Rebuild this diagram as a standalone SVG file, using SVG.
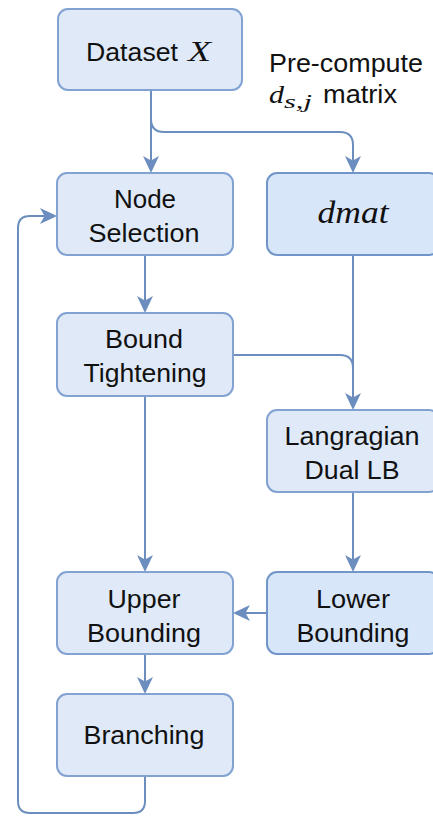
<svg xmlns="http://www.w3.org/2000/svg" width="433" height="816" viewBox="0 0 433 816">
  <style>
    .box { fill: #dfe9f8; stroke: #82a2d2; stroke-width: 2; }
    .box2 { fill: #d8e6f9; stroke: #7195c9; stroke-width: 2; }
    .lbl { font-family: "Liberation Sans", Arial, sans-serif; font-size: 26px; fill: #111; text-anchor: middle; }
    .lbls { font-family: "Liberation Sans", Arial, sans-serif; font-size: 26px; fill: #111; }
    .math { font-family: "Liberation Serif", "Times New Roman", serif; font-style: italic; fill: #111; }
    .edge { fill: none; stroke: #6c8ebf; stroke-width: 2; }
  </style>
  <defs>
    <marker id="arrow" markerUnits="userSpaceOnUse" markerWidth="19" markerHeight="17" refX="11" refY="8" orient="auto">
      <path d="M17,8 L0,0 L4.5,8 L0,16 Z" fill="#6c8ebf"/>
    </marker>
  </defs>

  <g id="connectors">
    <path class="edge" d="M151,90 V167" marker-end="url(#arrow)"/>
    <path class="edge" d="M151,90 V119 Q151,132 164,132 H340 Q353,132 353,145 V167" marker-end="url(#arrow)"/>
    <path class="edge" d="M145,255 V307" marker-end="url(#arrow)"/>
    <path class="edge" d="M353,255 V404" marker-end="url(#arrow)"/>
    <path class="edge" d="M233,355 H340 Q353,355 353,368 V380"/>
    <path class="edge" d="M145,396 V566" marker-end="url(#arrow)"/>
    <path class="edge" d="M353,492 V566" marker-end="url(#arrow)"/>
    <path class="edge" d="M267,613 H239" marker-end="url(#arrow)"/>
    <path class="edge" d="M145,654 V688" marker-end="url(#arrow)"/>
    <path class="edge" d="M145,776 V801 Q145,813 133,813 H30 Q18,813 18,801 V228 Q18,216 30,216 H51" marker-end="url(#arrow)"/>
  </g>

  <g id="dataset">
    <rect class="box" x="58" y="9" width="184" height="81" rx="10"/>
    <text class="lbls" x="86" y="61" textLength="92" lengthAdjust="spacingAndGlyphs">Dataset</text>
    <text class="math" x="188" y="61" font-size="29" textLength="23" lengthAdjust="spacingAndGlyphs">X</text>
  </g>

  <g id="precompute-label">
    <text class="lbls" x="269" y="72" textLength="154" lengthAdjust="spacingAndGlyphs">Pre-compute</text>
    <text class="math" x="269" y="103" font-size="26" textLength="15" lengthAdjust="spacingAndGlyphs">d</text>
    <text class="math" x="284" y="108" font-size="19" textLength="28" lengthAdjust="spacingAndGlyphs">s,j</text>
    <text class="lbls" x="323" y="103" textLength="74" lengthAdjust="spacingAndGlyphs">matrix</text>
  </g>

  <g id="node-selection">
    <rect class="box" x="57" y="173" width="176" height="82" rx="10"/>
    <text class="lbl" x="145" y="208" textLength="62" lengthAdjust="spacingAndGlyphs">Node</text>
    <text class="lbl" x="144" y="242" textLength="111" lengthAdjust="spacingAndGlyphs">Selection</text>
  </g>

  <g id="dmat">
    <rect class="box2" x="267" y="173" width="172" height="82" rx="10"/>
    <text class="math" x="353" y="223" font-size="31" text-anchor="middle" textLength="71" lengthAdjust="spacingAndGlyphs">dmat</text>
  </g>

  <g id="bound-tightening">
    <rect class="box" x="57" y="313" width="176" height="83" rx="10"/>
    <text class="lbl" x="144" y="348" textLength="78" lengthAdjust="spacingAndGlyphs">Bound</text>
    <text class="lbl" x="145" y="382" textLength="123" lengthAdjust="spacingAndGlyphs">Tightening</text>
  </g>

  <g id="lagrangian">
    <rect class="box" x="267" y="410" width="172" height="82" rx="10"/>
    <text class="lbl" x="352" y="445" textLength="135" lengthAdjust="spacingAndGlyphs">Langragian</text>
    <text class="lbl" x="352" y="479" textLength="95" lengthAdjust="spacingAndGlyphs">Dual LB</text>
  </g>

  <g id="upper-bounding">
    <rect class="box" x="57" y="572" width="176" height="82" rx="10"/>
    <text class="lbl" x="144" y="608" textLength="73" lengthAdjust="spacingAndGlyphs">Upper</text>
    <text class="lbl" x="144" y="642" textLength="114" lengthAdjust="spacingAndGlyphs">Bounding</text>
  </g>

  <g id="lower-bounding">
    <rect class="box2" x="267" y="572" width="172" height="82" rx="10"/>
    <text class="lbl" x="353" y="608" textLength="74" lengthAdjust="spacingAndGlyphs">Lower</text>
    <text class="lbl" x="353" y="642" textLength="113" lengthAdjust="spacingAndGlyphs">Bounding</text>
  </g>

  <g id="branching">
    <rect class="box" x="57" y="694" width="176" height="82" rx="10"/>
    <text class="lbl" x="144" y="744" textLength="121" lengthAdjust="spacingAndGlyphs">Branching</text>
  </g>
</svg>
